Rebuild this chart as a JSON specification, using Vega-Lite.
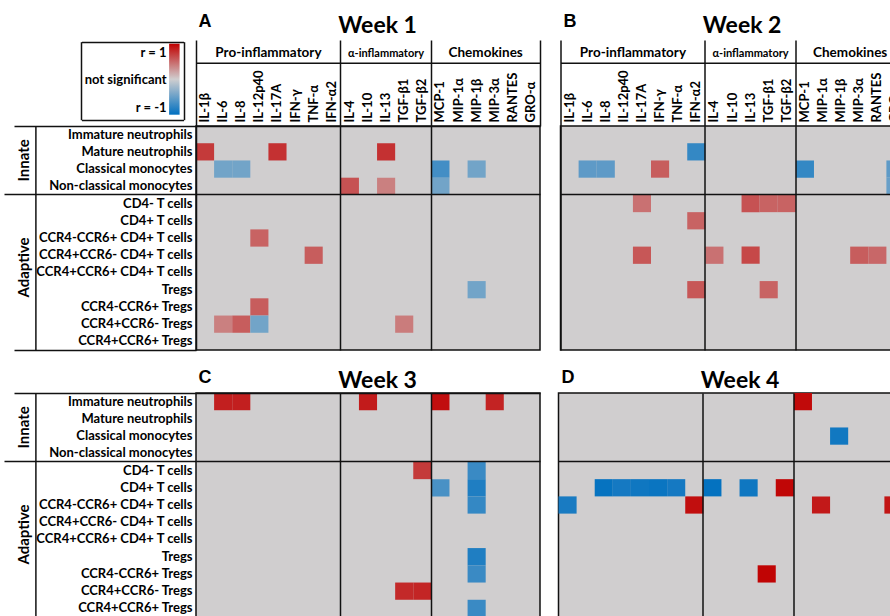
{
  "$schema": "https://vega.github.io/schema/vega-lite/v6.json",
  "padding": {"left": 2, "top": 11, "right": -12, "bottom": -2},
  "config": {
    "view": {"stroke": "#111", "strokeWidth": 1.5, "fill": "#d0cecf"},
    "font": "Lato",
    "axis": {"labelFont": "Lato", "labelFontWeight": "bold", "labelColor": "black", "title": null, "labelOverlap": false, "labelFlush": false}
  },
  "datasets": {
    "corr": [
      {"week": 1, "cell": "Mature neutrophils", "cytokine": "IL-1β", "r": 0.72},
      {"week": 1, "cell": "Mature neutrophils", "cytokine": "IL-17A", "r": 0.76},
      {"week": 1, "cell": "Mature neutrophils", "cytokine": "IL-13", "r": 0.76},
      {"week": 1, "cell": "Classical monocytes", "cytokine": "IL-6", "r": -0.45},
      {"week": 1, "cell": "Classical monocytes", "cytokine": "IL-8", "r": -0.45},
      {"week": 1, "cell": "Classical monocytes", "cytokine": "MCP-1", "r": -0.68},
      {"week": 1, "cell": "Classical monocytes", "cytokine": "MIP-1β", "r": -0.45},
      {"week": 1, "cell": "Non-classical monocytes", "cytokine": "IL-4", "r": 0.6},
      {"week": 1, "cell": "Non-classical monocytes", "cytokine": "IL-13", "r": 0.38},
      {"week": 1, "cell": "Non-classical monocytes", "cytokine": "MCP-1", "r": -0.45},
      {"week": 1, "cell": "CCR4-CCR6+ CD4+ T cells", "cytokine": "IL-12p40", "r": 0.52},
      {"week": 1, "cell": "CCR4+CCR6- CD4+ T cells", "cytokine": "TNF-α", "r": 0.55},
      {"week": 1, "cell": "Tregs", "cytokine": "MIP-1β", "r": -0.45},
      {"week": 1, "cell": "CCR4-CCR6+ Tregs", "cytokine": "IL-12p40", "r": 0.55},
      {"week": 1, "cell": "CCR4+CCR6- Tregs", "cytokine": "IL-6", "r": 0.38},
      {"week": 1, "cell": "CCR4+CCR6- Tregs", "cytokine": "IL-8", "r": 0.55},
      {"week": 1, "cell": "CCR4+CCR6- Tregs", "cytokine": "IL-12p40", "r": -0.45},
      {"week": 1, "cell": "CCR4+CCR6- Tregs", "cytokine": "TGF-β1", "r": 0.4},
      {"week": 2, "cell": "Mature neutrophils", "cytokine": "IFN-α2", "r": -0.75},
      {"week": 2, "cell": "Classical monocytes", "cytokine": "IL-6", "r": -0.55},
      {"week": 2, "cell": "Classical monocytes", "cytokine": "IL-8", "r": -0.55},
      {"week": 2, "cell": "Classical monocytes", "cytokine": "IFN-γ", "r": 0.55},
      {"week": 2, "cell": "Classical monocytes", "cytokine": "MCP-1", "r": -0.75},
      {"week": 2, "cell": "Classical monocytes", "cytokine": "GRO-α", "r": -0.55},
      {"week": 2, "cell": "Non-classical monocytes", "cytokine": "GRO-α", "r": -0.5},
      {"week": 2, "cell": "CD4- T cells", "cytokine": "IL-17A", "r": 0.45},
      {"week": 2, "cell": "CD4- T cells", "cytokine": "IL-13", "r": 0.6},
      {"week": 2, "cell": "CD4- T cells", "cytokine": "TGF-β1", "r": 0.52},
      {"week": 2, "cell": "CD4- T cells", "cytokine": "TGF-β2", "r": 0.52},
      {"week": 2, "cell": "CD4+ T cells", "cytokine": "IFN-α2", "r": 0.52},
      {"week": 2, "cell": "CCR4+CCR6- CD4+ T cells", "cytokine": "IL-17A", "r": 0.58},
      {"week": 2, "cell": "CCR4+CCR6- CD4+ T cells", "cytokine": "IL-4", "r": 0.45},
      {"week": 2, "cell": "CCR4+CCR6- CD4+ T cells", "cytokine": "IL-13", "r": 0.65},
      {"week": 2, "cell": "CCR4+CCR6- CD4+ T cells", "cytokine": "MIP-3α", "r": 0.55},
      {"week": 2, "cell": "CCR4+CCR6- CD4+ T cells", "cytokine": "RANTES", "r": 0.5},
      {"week": 2, "cell": "Tregs", "cytokine": "IFN-α2", "r": 0.58},
      {"week": 2, "cell": "Tregs", "cytokine": "TGF-β1", "r": 0.52},
      {"week": 3, "cell": "Immature neutrophils", "cytokine": "IL-6", "r": 0.85},
      {"week": 3, "cell": "Immature neutrophils", "cytokine": "IL-8", "r": 0.85},
      {"week": 3, "cell": "Immature neutrophils", "cytokine": "IL-10", "r": 0.87},
      {"week": 3, "cell": "Immature neutrophils", "cytokine": "MCP-1", "r": 0.93},
      {"week": 3, "cell": "Immature neutrophils", "cytokine": "MIP-3α", "r": 0.83},
      {"week": 3, "cell": "CD4- T cells", "cytokine": "TGF-β2", "r": 0.72},
      {"week": 3, "cell": "CD4- T cells", "cytokine": "MIP-1β", "r": -0.72},
      {"week": 3, "cell": "CD4+ T cells", "cytokine": "MCP-1", "r": -0.65},
      {"week": 3, "cell": "CD4+ T cells", "cytokine": "MIP-1β", "r": -0.85},
      {"week": 3, "cell": "CCR4-CCR6+ CD4+ T cells", "cytokine": "MIP-1β", "r": -0.75},
      {"week": 3, "cell": "Tregs", "cytokine": "MIP-1β", "r": -0.85},
      {"week": 3, "cell": "CCR4-CCR6+ Tregs", "cytokine": "MIP-1β", "r": -0.72},
      {"week": 3, "cell": "CCR4+CCR6- Tregs", "cytokine": "TGF-β1", "r": 0.8},
      {"week": 3, "cell": "CCR4+CCR6- Tregs", "cytokine": "TGF-β2", "r": 0.82},
      {"week": 3, "cell": "CCR4+CCR6+ Tregs", "cytokine": "MIP-1β", "r": -0.72},
      {"week": 4, "cell": "Immature neutrophils", "cytokine": "MCP-1", "r": 0.95},
      {"week": 4, "cell": "Classical monocytes", "cytokine": "MIP-1β", "r": -0.92},
      {"week": 4, "cell": "CD4+ T cells", "cytokine": "IL-8", "r": -0.97},
      {"week": 4, "cell": "CD4+ T cells", "cytokine": "IL-12p40", "r": -0.9},
      {"week": 4, "cell": "CD4+ T cells", "cytokine": "IL-17A", "r": -0.93},
      {"week": 4, "cell": "CD4+ T cells", "cytokine": "IFN-γ", "r": -0.95},
      {"week": 4, "cell": "CD4+ T cells", "cytokine": "TNF-α", "r": -0.9},
      {"week": 4, "cell": "CD4+ T cells", "cytokine": "IL-4", "r": -0.98},
      {"week": 4, "cell": "CD4+ T cells", "cytokine": "IL-13", "r": -0.93},
      {"week": 4, "cell": "CD4+ T cells", "cytokine": "TGF-β2", "r": 0.97},
      {"week": 4, "cell": "CCR4-CCR6+ CD4+ T cells", "cytokine": "IL-1β", "r": -0.88},
      {"week": 4, "cell": "CCR4-CCR6+ CD4+ T cells", "cytokine": "IFN-α2", "r": 0.93},
      {"week": 4, "cell": "CCR4-CCR6+ CD4+ T cells", "cytokine": "MIP-1α", "r": 0.88},
      {"week": 4, "cell": "CCR4-CCR6+ CD4+ T cells", "cytokine": "GRO-α", "r": 0.9},
      {"week": 4, "cell": "CCR4-CCR6+ Tregs", "cytokine": "TGF-β1", "r": 0.98}
    ]
  },
  "resolve": {"scale": {"color": "independent"}, "legend": {"color": "independent"}},
  "spacing": 15,
  "vconcat": [
    {
      "spacing": 16.5,
      "resolve": {"scale": {"color": "independent"}, "legend": {"color": "independent"}},
      "hconcat": [
        {
          "width": 344, "height": 224,
          "data": {"name": "corr"},
          "transform": [{"filter": "datum.week === 1"}],
          "encoding": {
            "x": {"field": "cytokine", "type": "nominal", "scale": {"domain": ["IL-1β","IL-6","IL-8","IL-12p40","IL-17A","IFN-γ","TNF-α","IFN-α2","IL-4","IL-10","IL-13","TGF-β1","TGF-β2","MCP-1","MIP-1α","MIP-1β","MIP-3α","RANTES","GRO-α"], "paddingInner": 0, "paddingOuter": 0}},
            "y": {"field": "cell", "type": "nominal", "scale": {"domain": ["Immature neutrophils","Mature neutrophils","Classical monocytes","Non-classical monocytes","CD4- T cells","CD4+ T cells","CCR4-CCR6+ CD4+ T cells","CCR4+CCR6- CD4+ T cells","CCR4+CCR6+ CD4+ T cells","Tregs","CCR4-CCR6+ Tregs","CCR4+CCR6- Tregs","CCR4+CCR6+ Tregs"], "paddingInner": 0, "paddingOuter": 0}}
          },
          "resolve": {"axis": {"x": "independent", "y": "independent"}},
          "layer": [
            {
              "mark": {"type": "rect"},
              "encoding": {
                "x": {"field": "cytokine", "axis": {"orient": "top", "labelAngle": 270, "labelFontSize": 13, "labelPadding": 4, "ticks": false, "domain": false, "grid": false, "labelLimit": 200}},
                "y": {"field": "cell", "axis": {"orient": "left", "labelFontSize": 13, "labelPadding": 4, "ticks": false, "domain": false, "grid": false, "labelLimit": 260}},
                "color": {
                  "field": "r", "type": "quantitative",
                  "scale": {"domain": [-1, 0, 1], "range": ["#0070c0", "#d0cecf", "#c00000"], "interpolate": "rgb"},
                  "legend": {"orient": "none", "legendX": -26.9, "legendY": -82.3, "direction": "vertical", "title": null, "gradientLength": 71, "gradientThickness": 10.5, "values": [1, -1], "labelExpr": "''", "padding": 0}
                }
              }
            },
            {
              "mark": {"type": "rect", "opacity": 0},
              "encoding": {
                "x": {"field": "cytokine", "axis": {"orient": "top", "values": ["IL-1β", "IL-4", "MCP-1"], "bandPosition": 0, "labels": false, "domain": false, "ticks": true, "tickSize": 86, "tickColor": "#111", "tickWidth": 1.5, "grid": true, "gridColor": "#111", "gridWidth": 1.5, "zindex": 1}},
                "y": {"field": "cell", "axis": {"orient": "left", "values": ["Immature neutrophils", "CD4- T cells"], "bandPosition": 0, "labels": false, "domain": false, "ticks": true, "tickSize": {"condition": {"test": "datum.value === 'CD4- T cells'", "value": 192}, "value": 182}, "tickColor": "#111", "tickWidth": 1.5, "grid": true, "gridColor": "#111", "gridWidth": 1.5, "zindex": 1}}
              }
            },
            {
              "mark": {"type": "rect", "opacity": 0},
              "encoding": {
                "x": {"field": "cytokine", "axis": {"orient": "top", "values": ["GRO-α"], "bandPosition": 1, "labels": false, "domain": false, "ticks": true, "tickSize": 86, "tickColor": "#111", "tickWidth": 1.5, "grid": false, "zindex": 1}},
                "y": {"field": "cell", "axis": {"orient": "left", "values": ["CCR4+CCR6+ Tregs"], "bandPosition": 1, "labels": false, "domain": false, "ticks": true, "tickSize": 182, "tickColor": "#111", "tickWidth": 1.5, "grid": false, "zindex": 1}}
              }
            },
            {
              "mark": {"type": "rect", "opacity": 0},
              "encoding": {
                "x": {"field": "cytokine", "axis": {"orient": "top", "offset": 63.3, "values": ["IL-17A", "IL-13", "MIP-3α"], "labelExpr": "datum.value === 'IL-17A' ? 'Pro-inflammatory' : (datum.value === 'IL-13' ? 'α-inflammatory' : 'Chemokines')", "labelOffset": {"condition": {"test": "datum.value === 'IL-13'", "value": 0}, "value": -9.05}, "labelFontSize": {"condition": {"test": "datum.value === 'IL-13'", "value": 11}, "value": 13.5}, "labelAngle": 0, "labelAlign": "center", "labelBaseline": "alphabetic", "labelPadding": 6, "ticks": false, "domain": true, "domainColor": "#111", "domainWidth": 1.5, "grid": false}},
                "y": {"field": "cell", "axis": {"orient": "left", "offset": 160.6, "values": ["Classical monocytes", "CCR4+CCR6+ CD4+ T cells"], "labelExpr": "datum.value === 'Classical monocytes' ? 'Innate' : 'Adaptive'", "labelOffset": {"condition": {"test": "datum.value === 'Classical monocytes'", "value": -8.6}, "value": -5}, "labelAngle": 270, "labelAlign": "center", "labelBaseline": "bottom", "labelPadding": 4, "labelFontSize": 15, "ticks": false, "domain": true, "domainColor": "#111", "domainWidth": 1.5, "grid": false}}
              }
            },
            {
              "mark": {"type": "rect", "opacity": 0},
              "encoding": {
                "x": {"field": "cytokine", "axis": {"orient": "top", "values": ["IL-1β", "IL-13"], "labelExpr": "datum.value === 'IL-1β' ? 'A' : 'Week 1'", "labelFont": {"condition": {"test": "datum.value === 'IL-1β'", "value": "Liberation Sans"}, "value": "Lato"}, "labelFontSize": {"condition": {"test": "datum.value === 'IL-1β'", "value": 18}, "value": 23}, "labelAlign": {"condition": {"test": "datum.value === 'IL-1β'", "value": "left"}, "value": "center"}, "labelOffset": {"condition": {"test": "datum.value === 'IL-1β'", "value": -6.5}, "value": -8.5}, "labelPadding": {"condition": {"test": "datum.value === 'IL-1β'", "value": 99.3}, "value": 93.6}, "labelBaseline": "alphabetic", "labelAngle": 0, "ticks": false, "domain": false, "grid": false}},
                "y": {"field": "cell", "axis": {"orient": "left", "offset": 29.9, "values": ["Immature neutrophils", "Mature neutrophils", "Classical monocytes"], "labelExpr": "datum.value === 'Immature neutrophils' ? 'r = 1' : (datum.value === 'Mature neutrophils' ? 'not significant' : 'r = -1')", "labelOffset": {"condition": [{"test": "datum.value === 'Immature neutrophils'", "value": -81.9}, {"test": "datum.value === 'Mature neutrophils'", "value": -71.4}], "value": -61.4}, "labelAlign": "right", "labelBaseline": "middle", "labelPadding": 0, "labelFontSize": 13, "ticks": false, "domain": false, "grid": false}}
              }
            },
            {
              "mark": {"type": "rect", "opacity": 0},
              "encoding": {
                "x": {"field": "cytokine", "axis": {"orient": "top", "offset": 6.3, "values": ["IL-1β"], "bandPosition": 0, "tickOffset": -114.6, "labels": false, "domain": false, "ticks": true, "tickSize": 78, "tickColor": "#111", "tickWidth": 1.5, "grid": false}},
                "y": {"field": "cell", "axis": {"orient": "left", "offset": 12.5, "values": ["Immature neutrophils"], "bandPosition": 0, "tickOffset": -84.3, "labels": false, "domain": false, "ticks": true, "tickSize": 102.1, "tickColor": "#111", "tickWidth": 1.5, "grid": false}}
              }
            },
            {
              "mark": {"type": "rect", "opacity": 0},
              "encoding": {
                "x": {"field": "cytokine", "axis": {"orient": "top", "offset": 6.3, "values": ["IL-1β"], "bandPosition": 0, "tickOffset": -12.5, "labels": false, "domain": false, "ticks": true, "tickSize": 78, "tickColor": "#111", "tickWidth": 1.5, "grid": false}},
                "y": {"field": "cell", "axis": {"orient": "left", "offset": 12.5, "values": ["Immature neutrophils"], "bandPosition": 0, "tickOffset": -6.3, "labels": false, "domain": false, "ticks": true, "tickSize": 102.1, "tickColor": "#111", "tickWidth": 1.5, "grid": false}}
              }
            }
          ]
        },
        {
          "width": 344, "height": 224,
          "data": {"name": "corr"},
          "transform": [{"filter": "datum.week === 2"}],
          "encoding": {
            "x": {"field": "cytokine", "type": "nominal", "scale": {"domain": ["IL-1β","IL-6","IL-8","IL-12p40","IL-17A","IFN-γ","TNF-α","IFN-α2","IL-4","IL-10","IL-13","TGF-β1","TGF-β2","MCP-1","MIP-1α","MIP-1β","MIP-3α","RANTES","GRO-α"], "paddingInner": 0, "paddingOuter": 0}},
            "y": {"field": "cell", "type": "nominal", "scale": {"domain": ["Immature neutrophils","Mature neutrophils","Classical monocytes","Non-classical monocytes","CD4- T cells","CD4+ T cells","CCR4-CCR6+ CD4+ T cells","CCR4+CCR6- CD4+ T cells","CCR4+CCR6+ CD4+ T cells","Tregs","CCR4-CCR6+ Tregs","CCR4+CCR6- Tregs","CCR4+CCR6+ Tregs"], "paddingInner": 0, "paddingOuter": 0}}
          },
          "resolve": {"axis": {"x": "independent", "y": "independent"}},
          "layer": [
            {
              "mark": {"type": "rect"},
              "encoding": {
                "x": {"field": "cytokine", "axis": {"orient": "top", "labelAngle": 270, "labelFontSize": 13, "labelPadding": 4, "ticks": false, "domain": false, "grid": false, "labelLimit": 200}},
                "y": {"field": "cell", "axis": {"orient": "left", "values": ["CD4- T cells"], "bandPosition": 0, "labels": false, "ticks": false, "domain": false, "grid": true, "gridColor": "#111", "gridWidth": 1.5, "zindex": 1}},
                "color": {"field": "r", "type": "quantitative", "scale": {"domain": [-1, 0, 1], "range": ["#0070c0", "#d0cecf", "#c00000"], "interpolate": "rgb"}, "legend": null}
              }
            },
            {
              "mark": {"type": "rect", "opacity": 0},
              "encoding": {
                "x": {"field": "cytokine", "axis": {"orient": "top", "values": ["IL-1β", "IL-4", "MCP-1"], "bandPosition": 0, "labels": false, "domain": false, "ticks": true, "tickSize": 86, "tickColor": "#111", "tickWidth": 1.5, "grid": true, "gridColor": "#111", "gridWidth": 1.5, "zindex": 1}},
                "y": {"field": "cell", "axis": null}
              }
            },
            {
              "mark": {"type": "rect", "opacity": 0},
              "encoding": {
                "x": {"field": "cytokine", "axis": {"orient": "top", "offset": 63.3, "values": ["IL-17A", "IL-13", "MIP-3α"], "labelExpr": "datum.value === 'IL-17A' ? 'Pro-inflammatory' : (datum.value === 'IL-13' ? 'α-inflammatory' : 'Chemokines')", "labelOffset": {"condition": {"test": "datum.value === 'IL-13'", "value": 0}, "value": -9.05}, "labelFontSize": {"condition": {"test": "datum.value === 'IL-13'", "value": 11}, "value": 13.5}, "labelAngle": 0, "labelAlign": "center", "labelBaseline": "alphabetic", "labelPadding": 6, "ticks": false, "domain": true, "domainColor": "#111", "domainWidth": 1.5, "grid": false}},
                "y": {"field": "cell", "axis": null}
              }
            },
            {
              "mark": {"type": "rect", "opacity": 0},
              "encoding": {
                "x": {"field": "cytokine", "axis": {"orient": "top", "values": ["IL-1β", "IL-13"], "labelExpr": "datum.value === 'IL-1β' ? 'B' : 'Week 2'", "labelFont": {"condition": {"test": "datum.value === 'IL-1β'", "value": "Liberation Sans"}, "value": "Lato"}, "labelFontSize": {"condition": {"test": "datum.value === 'IL-1β'", "value": 18}, "value": 23}, "labelAlign": {"condition": {"test": "datum.value === 'IL-1β'", "value": "left"}, "value": "center"}, "labelOffset": {"condition": {"test": "datum.value === 'IL-1β'", "value": -6}, "value": -8.5}, "labelPadding": {"condition": {"test": "datum.value === 'IL-1β'", "value": 99.3}, "value": 93.6}, "labelBaseline": "alphabetic", "labelAngle": 0, "ticks": false, "domain": false, "grid": false}},
                "y": {"field": "cell", "axis": null}
              }
            }
          ]
        }
      ]
    },
    {
      "spacing": 16.5,
      "resolve": {"scale": {"color": "independent"}, "legend": {"color": "independent"}},
      "hconcat": [
        {
          "width": 344, "height": 224,
          "data": {"name": "corr"},
          "transform": [{"filter": "datum.week === 3"}],
          "encoding": {
            "x": {"field": "cytokine", "type": "nominal", "scale": {"domain": ["IL-1β","IL-6","IL-8","IL-12p40","IL-17A","IFN-γ","TNF-α","IFN-α2","IL-4","IL-10","IL-13","TGF-β1","TGF-β2","MCP-1","MIP-1α","MIP-1β","MIP-3α","RANTES","GRO-α"], "paddingInner": 0, "paddingOuter": 0}},
            "y": {"field": "cell", "type": "nominal", "scale": {"domain": ["Immature neutrophils","Mature neutrophils","Classical monocytes","Non-classical monocytes","CD4- T cells","CD4+ T cells","CCR4-CCR6+ CD4+ T cells","CCR4+CCR6- CD4+ T cells","CCR4+CCR6+ CD4+ T cells","Tregs","CCR4-CCR6+ Tregs","CCR4+CCR6- Tregs","CCR4+CCR6+ Tregs"], "paddingInner": 0, "paddingOuter": 0}}
          },
          "resolve": {"axis": {"x": "independent", "y": "independent"}},
          "layer": [
            {
              "mark": {"type": "rect"},
              "encoding": {
                "x": {"field": "cytokine", "axis": {"orient": "top", "values": ["IL-4", "MCP-1"], "bandPosition": 0, "labels": false, "ticks": false, "domain": false, "grid": true, "gridColor": "#111", "gridWidth": 1.5, "zindex": 1}},
                "y": {"field": "cell", "axis": {"orient": "left", "labelFontSize": 13, "labelPadding": 4, "ticks": false, "domain": false, "grid": false, "labelLimit": 260}},
                "color": {"field": "r", "type": "quantitative", "scale": {"domain": [-1, 0, 1], "range": ["#0070c0", "#d0cecf", "#c00000"], "interpolate": "rgb"}, "legend": null}
              }
            },
            {
              "mark": {"type": "rect", "opacity": 0},
              "encoding": {
                "x": {"field": "cytokine", "axis": {"orient": "top", "values": ["IL-1β", "IL-13"], "labelExpr": "datum.value === 'IL-1β' ? 'C' : 'Week 3'", "labelFont": {"condition": {"test": "datum.value === 'IL-1β'", "value": "Liberation Sans"}, "value": "Lato"}, "labelFontSize": {"condition": {"test": "datum.value === 'IL-1β'", "value": 18}, "value": 23}, "labelAlign": {"condition": {"test": "datum.value === 'IL-1β'", "value": "left"}, "value": "center"}, "labelOffset": {"condition": {"test": "datum.value === 'IL-1β'", "value": -6.5}, "value": -8.5}, "labelPadding": {"condition": {"test": "datum.value === 'IL-1β'", "value": 10.7}, "value": 5.7}, "labelBaseline": "alphabetic", "labelAngle": 0, "ticks": false, "domain": false, "grid": false}},
                "y": {"field": "cell", "axis": {"orient": "left", "values": ["Immature neutrophils", "CD4- T cells"], "bandPosition": 0, "labels": false, "domain": false, "ticks": true, "tickSize": {"condition": {"test": "datum.value === 'CD4- T cells'", "value": 192}, "value": 182}, "tickColor": "#111", "tickWidth": 1.5, "grid": true, "gridColor": "#111", "gridWidth": 1.5, "zindex": 1}}
              }
            },
            {
              "mark": {"type": "rect", "opacity": 0},
              "encoding": {
                "x": {"field": "cytokine", "axis": null},
                "y": {"field": "cell", "axis": {"orient": "left", "values": ["CCR4+CCR6+ Tregs"], "bandPosition": 1, "labels": false, "domain": false, "ticks": true, "tickSize": 182, "tickColor": "#111", "tickWidth": 1.5, "grid": false, "zindex": 1}}
              }
            },
            {
              "mark": {"type": "rect", "opacity": 0},
              "encoding": {
                "x": {"field": "cytokine", "axis": null},
                "y": {"field": "cell", "axis": {"orient": "left", "offset": 160.6, "values": ["Classical monocytes", "CCR4+CCR6+ CD4+ T cells"], "labelExpr": "datum.value === 'Classical monocytes' ? 'Innate' : 'Adaptive'", "labelOffset": {"condition": {"test": "datum.value === 'Classical monocytes'", "value": -8.6}, "value": -5}, "labelAngle": 270, "labelAlign": "center", "labelBaseline": "bottom", "labelPadding": 4, "labelFontSize": 15, "ticks": false, "domain": true, "domainColor": "#111", "domainWidth": 1.5, "grid": false}}
              }
            }
          ]
        },
        {
          "width": 344, "height": 224,
          "data": {"name": "corr"},
          "transform": [{"filter": "datum.week === 4"}],
          "encoding": {
            "x": {"field": "cytokine", "type": "nominal", "scale": {"domain": ["IL-1β","IL-6","IL-8","IL-12p40","IL-17A","IFN-γ","TNF-α","IFN-α2","IL-4","IL-10","IL-13","TGF-β1","TGF-β2","MCP-1","MIP-1α","MIP-1β","MIP-3α","RANTES","GRO-α"], "paddingInner": 0, "paddingOuter": 0}},
            "y": {"field": "cell", "type": "nominal", "scale": {"domain": ["Immature neutrophils","Mature neutrophils","Classical monocytes","Non-classical monocytes","CD4- T cells","CD4+ T cells","CCR4-CCR6+ CD4+ T cells","CCR4+CCR6- CD4+ T cells","CCR4+CCR6+ CD4+ T cells","Tregs","CCR4-CCR6+ Tregs","CCR4+CCR6- Tregs","CCR4+CCR6+ Tregs"], "paddingInner": 0, "paddingOuter": 0}}
          },
          "resolve": {"axis": {"x": "independent", "y": "independent"}},
          "layer": [
            {
              "mark": {"type": "rect"},
              "encoding": {
                "x": {"field": "cytokine", "axis": {"orient": "top", "values": ["IL-4", "MCP-1"], "bandPosition": 0, "labels": false, "ticks": false, "domain": false, "grid": true, "gridColor": "#111", "gridWidth": 1.5, "zindex": 1}},
                "y": {"field": "cell", "axis": {"orient": "left", "values": ["CD4- T cells"], "bandPosition": 0, "labels": false, "ticks": false, "domain": false, "grid": true, "gridColor": "#111", "gridWidth": 1.5, "zindex": 1}},
                "color": {"field": "r", "type": "quantitative", "scale": {"domain": [-1, 0, 1], "range": ["#0070c0", "#d0cecf", "#c00000"], "interpolate": "rgb"}, "legend": null}
              }
            },
            {
              "mark": {"type": "rect", "opacity": 0},
              "encoding": {
                "x": {"field": "cytokine", "axis": {"orient": "top", "values": ["IL-1β", "IL-13"], "labelExpr": "datum.value === 'IL-1β' ? 'D' : 'Week 4'", "labelFont": {"condition": {"test": "datum.value === 'IL-1β'", "value": "Liberation Sans"}, "value": "Lato"}, "labelFontSize": {"condition": {"test": "datum.value === 'IL-1β'", "value": 18}, "value": 23}, "labelAlign": {"condition": {"test": "datum.value === 'IL-1β'", "value": "left"}, "value": "center"}, "labelOffset": {"condition": {"test": "datum.value === 'IL-1β'", "value": -6}, "value": -8.5}, "labelPadding": {"condition": {"test": "datum.value === 'IL-1β'", "value": 10.7}, "value": 5.7}, "labelBaseline": "alphabetic", "labelAngle": 0, "ticks": false, "domain": false, "grid": false}},
                "y": {"field": "cell", "axis": null}
              }
            }
          ]
        }
      ]
    }
  ]
}
